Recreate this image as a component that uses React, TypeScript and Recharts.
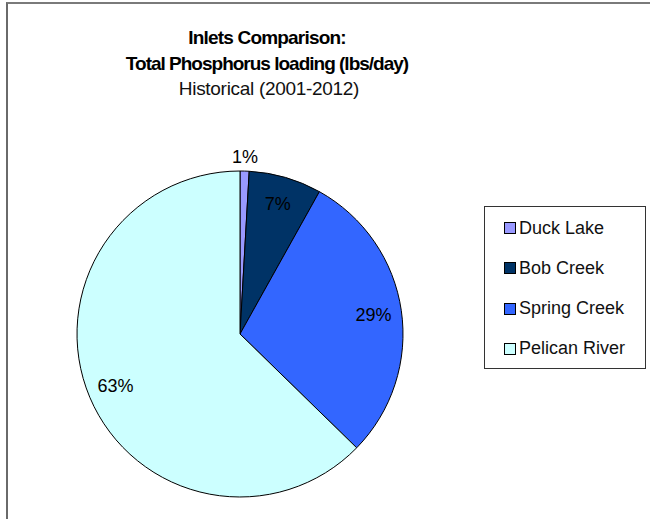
import React from 'react';
import { PieChart, Pie, Cell, Legend } from 'recharts';

const categories = ['Duck Lake', 'Bob Creek', 'Spring Creek', 'Pelican River'];
const shares = [0.9, 7.2, 29.2, 62.7];
const colors = ['#9999FF', '#003366', '#3366FF', '#CCFFFF'];
const titleLines = ['Inlets Comparison:', 'Total Phosphorus loading (lbs/day)', 'Historical (2001-2012)'];

const data = categories.map((name, i) => ({ name, value: shares[i] }));

const FONT = '"Liberation Sans", Arial, sans-serif';
const RAD = Math.PI / 180;

const renderLabel = (props: any) => {
  const { cx, cy, midAngle, outerRadius, percent } = props;
  const r = percent < 0.03 ? outerRadius + 14 : outerRadius - 28;
  const x = cx + r * Math.cos(-midAngle * RAD);
  const y = cy + r * Math.sin(-midAngle * RAD);
  return (
    <text
      x={x}
      y={y}
      textAnchor="middle"
      dominantBaseline="central"
      fill="#000"
      fontSize={18}
      fontFamily={FONT}
    >
      {`${Math.round(percent * 100)}%`}
    </text>
  );
};

const renderLegend = () => (
  <div
    style={{
      width: 162,
      height: 163,
      border: '1px solid #333',
      boxSizing: 'border-box',
      background: '#fff',
      position: 'relative',
      fontFamily: FONT,
    }}
  >
    {categories.map((c, i) => (
      <div
        key={c}
        style={{
          position: 'absolute',
          left: 19,
          top: 21 + i * 40.3 - 11,
          height: 22,
          display: 'flex',
          alignItems: 'center',
          whiteSpace: 'nowrap',
        }}
      >
        <span
          style={{
            display: 'inline-block',
            width: 10,
            height: 10,
            background: colors[i],
            border: '1px solid #000',
            marginRight: 3,
          }}
        />
        <span style={{ fontSize: 18, color: '#111' }}>{c}</span>
      </div>
    ))}
  </div>
);

export default function App() {
  return (
    <div style={{ position: 'absolute', left: 0, top: 0, width: 650, height: 519, background: '#fff', overflow: 'hidden' }}>
      <div
        style={{
          position: 'absolute',
          left: 6,
          top: 2,
          width: 700,
          height: 600,
          borderLeft: '2px solid #6a6a6a',
          borderTop: '2px solid #7a7a7a',
        }}
      />
      <PieChart
        width={650}
        height={519}
        margin={{ top: 0, right: 0, bottom: 0, left: 0 }}
        style={{ position: 'absolute', left: 0, top: 0 }}
      >
        <Pie
          data={data}
          dataKey="value"
          nameKey="name"
          cx={240}
          cy={334}
          outerRadius={163}
          startAngle={90}
          endAngle={-270}
          stroke="#000"
          strokeWidth={1}
          label={renderLabel}
          labelLine={false}
          isAnimationActive={false}
        >
          {data.map((d, i) => (
            <Cell key={d.name} fill={colors[i]} />
          ))}
        </Pie>
        <Legend
          content={renderLegend}
          wrapperStyle={{ position: 'absolute', left: 484, top: 206, width: 162, height: 163 }}
        />
      </PieChart>
      <svg width={650} height={120} style={{ position: 'absolute', left: 0, top: 0, pointerEvents: 'none' }}>
        <text x={267} y={44} textAnchor="middle" fontFamily={FONT} fontSize={19} fontWeight="bold" letterSpacing={-0.8} fill="#000">
          {titleLines[0]}
        </text>
        <text x={267} y={70} textAnchor="middle" fontFamily={FONT} fontSize={19} fontWeight="bold" letterSpacing={-1} fill="#000">
          {titleLines[1]}
        </text>
        <text x={269} y={95} textAnchor="middle" fontFamily={FONT} fontSize={19} letterSpacing={-0.3} fill="#111">
          {titleLines[2]}
        </text>
      </svg>
    </div>
  );
}
